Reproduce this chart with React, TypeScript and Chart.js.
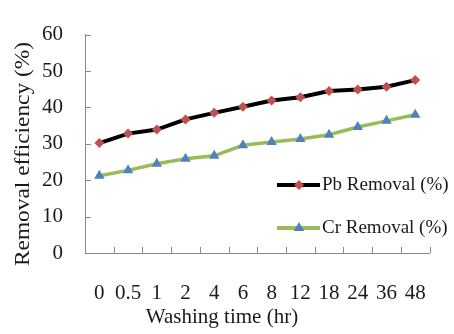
import React, { useEffect, useRef } from "react";
import { Chart, registerables } from "chart.js";

Chart.register(...registerables);

const categories = ["0", "0.5", "1", "2", "4", "6", "8", "12", "18", "24", "36", "48"];
const pbRemoval = [30.2, 32.8, 33.9, 36.7, 38.5, 40.2, 41.9, 42.8, 44.5, 44.9, 45.7, 47.5];
const crRemoval = [21.2, 22.7, 24.5, 25.9, 26.7, 29.6, 30.5, 31.3, 32.5, 34.6, 36.3, 38.0];
const yTicks = [0, 10, 20, 30, 40, 50, 60];
const seriesNames = ["Pb Removal (%)", "Cr Removal (%)"];
const xTitle = "Washing time (hr)";
const yTitle = "Removal efficiency (%)";

const FONT = "'Liberation Serif', 'Times New Roman', serif";
const AXIS = "#8a8a8a";
const TEXT = "#1a1a1a";
const PB_LINE = "#000000";
const PB_MARK = "#C0504D";
const CR_LINE = "#9BBB59";
const CR_MARK = "#4F81BD";

function drawDiamond(ctx: CanvasRenderingContext2D, x: number, y: number, r: number, color: string) {
  ctx.beginPath();
  ctx.moveTo(x, y - r);
  ctx.lineTo(x + r, y);
  ctx.lineTo(x, y + r);
  ctx.lineTo(x - r, y);
  ctx.closePath();
  ctx.fillStyle = color;
  ctx.fill();
}

function drawTriangle(ctx: CanvasRenderingContext2D, x: number, y: number, r: number, color: string) {
  ctx.beginPath();
  ctx.moveTo(x, y - r);
  ctx.lineTo(x + r * Math.sin((2 * Math.PI) / 3), y + r / 2);
  ctx.lineTo(x - r * Math.sin((2 * Math.PI) / 3), y + r / 2);
  ctx.closePath();
  ctx.fillStyle = color;
  ctx.fill();
}

const decorPlugin = {
  id: "decor",
  afterDraw(chart: any) {
    const { ctx, chartArea, scales } = chart;
    const xs = scales.x;
    const ys = scales.y;
    ctx.save();
    // inward tick marks
    ctx.strokeStyle = AXIS;
    ctx.lineWidth = 1;
    ctx.beginPath();
    for (let i = 1; i <= categories.length; i++) {
      const px = Math.round(xs.getPixelForValue(i - 0.5)) + 0.5;
      ctx.moveTo(px, chartArea.bottom);
      ctx.lineTo(px, chartArea.bottom - 6);
    }
    for (const v of yTicks) {
      const py = Math.round(ys.getPixelForValue(v)) + 0.5;
      ctx.moveTo(chartArea.left, py);
      ctx.lineTo(chartArea.left + 6, py);
    }
    ctx.stroke();

    // axis titles
    ctx.fillStyle = TEXT;
    ctx.font = `21px ${FONT}`;
    ctx.textAlign = "center";
    ctx.textBaseline = "alphabetic";
    ctx.fillText(xTitle, 222, 323);

    ctx.save();
    ctx.translate(29, 154);
    ctx.rotate(-Math.PI / 2);
    ctx.font = `22px ${FONT}`;
    const w = ctx.measureText(yTitle).width;
    ctx.scale(224 / w, 1);
    ctx.fillText(yTitle, 0, 0);
    ctx.restore();

    // legend
    const rows = [
      { name: seriesNames[0], line: PB_LINE, mark: PB_MARK, shape: "diamond", y: 185 },
      { name: seriesNames[1], line: CR_LINE, mark: CR_MARK, shape: "triangle", y: 228 },
    ];
    for (const r of rows) {
      ctx.strokeStyle = r.line;
      ctx.lineWidth = 4;
      ctx.beginPath();
      ctx.moveTo(277, r.y);
      ctx.lineTo(320, r.y);
      ctx.stroke();
      if (r.shape === "diamond") drawDiamond(ctx, 299, r.y, 5, r.mark);
      else drawTriangle(ctx, 299, r.y, 6, r.mark);
      ctx.fillStyle = TEXT;
      ctx.font = `19px ${FONT}`;
      ctx.textAlign = "left";
      ctx.textBaseline = "middle";
      ctx.fillText(r.name, 322, r.y);
    }
    ctx.restore();
  },
};

export default function App() {
  const ref = useRef<HTMLCanvasElement | null>(null);

  useEffect(() => {
    if (!ref.current) return;
    const chart = new Chart(ref.current, {
      type: "line",
      data: {
        labels: categories,
        datasets: [
          {
            label: seriesNames[0],
            data: pbRemoval,
            borderColor: PB_LINE,
            borderWidth: 4,
            pointStyle: "rectRot",
            pointRadius: 5,
            pointBackgroundColor: PB_MARK,
            pointBorderColor: PB_MARK,
            pointBorderWidth: 0,
            tension: 0,
          },
          {
            label: seriesNames[1],
            data: crRemoval,
            borderColor: CR_LINE,
            borderWidth: 3.5,
            pointStyle: "triangle",
            pointRadius: 6,
            pointBackgroundColor: CR_MARK,
            pointBorderColor: CR_MARK,
            pointBorderWidth: 0,
            tension: 0,
          },
        ],
      },
      options: {
        responsive: false,
        animation: false,
        devicePixelRatio: 1,
        layout: { padding: { left: 0, top: 21, right: 7, bottom: 0 } },
        plugins: { legend: { display: false }, tooltip: { enabled: false } },
        scales: {
          x: {
            type: "category",
            offset: true,
            grid: { display: true, drawOnChartArea: false, drawTicks: false },
            border: { display: true, color: AXIS, width: 1 },
            ticks: { color: TEXT, font: { family: FONT, size: 21 }, padding: 28, maxRotation: 0, autoSkip: false },
            afterFit: (s: any) => {
              s.height = 81;
            },
          },
          y: {
            min: 0,
            max: 60,
            ticks: { stepSize: 10, color: TEXT, font: { family: FONT, size: 21 }, padding: 22 },
            grid: { display: true, drawOnChartArea: false, drawTicks: false },
            border: { display: true, color: AXIS, width: 1 },
            afterFit: (s: any) => {
              s.width = 85;
            },
          },
        },
      },
      plugins: [decorPlugin],
    });
    return () => chart.destroy();
  }, []);

  return (
    <div style={{ position: "absolute", left: 0, top: 0, width: 454, height: 334, background: "#fff" }}>
      <canvas ref={ref} width={454} height={334} style={{ width: 454, height: 334 }} />
    </div>
  );
}
